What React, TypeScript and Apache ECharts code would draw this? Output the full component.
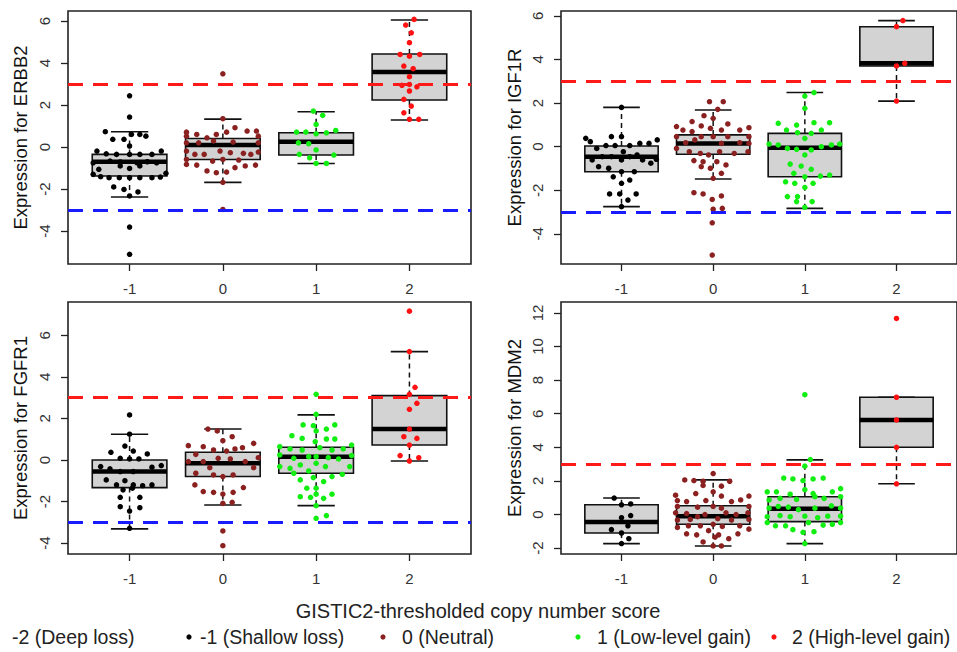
import React, { useEffect, useRef } from "react";
import * as echarts from "echarts";

// ---------- data ----------
const categories = [-1, 0, 1, 2];
const xTickLabels = [-1, 0, 1, 2];
const genes = ["ERBB2", "IGF1R", "FGFR1", "MDM2"];
const groupColors = ["#000000", "#8b2020", "#11ee11", "#ff1111"];
const legendLabels = [
  "-2 (Deep loss)",
  "-1 (Shallow loss)",
  "0 (Neutral)",
  "1 (Low-level gain)",
  "2 (High-level gain)",
];
const legendColors = ["#0000ff", "#000000", "#8b2020", "#11ee11", "#ff1111"];

// y tick labels per panel
const yTicksERBB2 = [-4, -2, 0, 2, 4, 6];
const yTicksIGF1R = [-4, -2, 0, 2, 4, 6];
const yTicksFGFR1 = [-4, -2, 0, 2, 4, 6];
const yTicksMDM2 = [-2, 0, 2, 4, 6, 8, 10, 12];

// thresholds (high-level gain / deep loss)
const thresholdsERBB2 = [3, -3];
const thresholdsIGF1R = [3, -3];
const thresholdsFGFR1 = [3, -3];
const thresholdsMDM2 = [3];

// box statistics per group: [lower whisker, Q1, median, Q3, upper whisker]
const boxERBB2 = [
  [-2.38, -1.38, -0.7, -0.35, 0.73],
  [-1.68, -0.59, 0.1, 0.41, 1.33],
  [-0.78, -0.38, 0.25, 0.68, 1.68],
  [1.29, 2.24, 3.57, 4.43, 6.05],
];
const boxIGF1R = [
  [-2.75, -1.15, -0.46, 0.03, 1.8],
  [-1.48, -0.35, 0.15, 0.54, 1.68],
  [-2.83, -1.38, -0.05, 0.61, 2.48],
  [2.09, 3.7, 3.82, 5.5, 5.78],
];
const boxFGFR1 = [
  [-3.32, -1.33, -0.56, 0, 1.24],
  [-2.17, -0.8, -0.16, 0.37, 1.49],
  [-2.2, -0.64, 0.16, 0.61, 2.17],
  [-0.05, 0.72, 1.49, 3.1, 5.22],
];
const boxMDM2 = [
  [-1.73, -1.1, -0.44, 0.58, 0.98],
  [-1.87, -0.58, -0.1, 0.52, 2.06],
  [-1.73, -0.42, 0.35, 1.06, 3.25],
  [1.83, 4.0, 5.63, 6.98, 6.98],
];

// jittered points: [jitter offset, expression]
const erbb2Shallow = [[0,2.44],[0,1.43],[-0.26,0.73],[-0.18,0.37],[-0.06,0.37],[0.02,0.6],[0.11,0.6],[0.175,0.52],[0,0.05],[-0.35,-0.19],[-0.25,-0.32],[-0.14,-0.35],[0,-0.35],[0.11,-0.35],[0.24,-0.35],[0.34,-0.19],[-0.39,-0.75],[-0.21,-0.67],[-0.1,-0.71],[0.08,-0.75],[0.19,-0.7],[0.29,-0.75],[-0.33,-1.06],[-0.1,-0.9],[0,-1.02],[0.11,-0.9],[0.39,-1.25],[-0.39,-1.3],[-0.31,-1.41],[-0.22,-1.46],[-0.11,-1.46],[0,-1.46],[0.11,-1.46],[0.24,-1.46],[0.33,-1.43],[-0.17,-1.9],[-0.06,-2.02],[0.09,-2.14],[0,-2.33],[0,-3.81],[0,-5.11]];
const erbb2Neutral = [[0,3.49],[0,1.35],[0.13,0.92],[-0.39,0.71],[-0.39,0.52],[-0.28,0.6],[-0.17,0.44],[-0.07,0.6],[0.04,0.71],[0.26,0.76],[0.36,0.76],[0.38,0.52],[-0.39,0.2],[-0.26,0.2],[-0.1,0.29],[0.11,0.24],[0.38,0.2],[-0.39,-0.19],[-0.3,-0.35],[-0.2,-0.35],[-0.03,-0.19],[0.08,-0.27],[0.22,-0.3],[0.3,-0.35],[0.38,-0.24],[-0.39,-0.59],[-0.11,-0.67],[0,-0.59],[0.17,-0.62],[-0.39,-0.83],[-0.28,-0.86],[-0.17,-1.14],[-0.07,-1.22],[0.04,-1.19],[0.13,-0.98],[0.24,-0.9],[0.35,-0.86],[0,-1.68],[0,-2.97]];
const erbb2Low = [[-0.03,1.71],[0.07,1.51],[0,1.08],[-0.21,0.71],[-0.11,0.71],[0,0.63],[0.11,0.68],[0.21,0.79],[-0.19,0.2],[-0.08,0.16],[0,-0.14],[-0.18,-0.35],[-0.07,-0.51],[0.19,-0.38],[0,-0.78],[0.11,-0.78]];
const erbb2High = [[0.05,6.08],[-0.04,5.81],[0.02,5.44],[0,4.97],[-0.1,4.41],[0,4.33],[0.11,4.41],[-0.06,3.86],[0.04,3.73],[0,3.35],[-0.08,2.94],[0,2.98],[0.08,2.87],[0,2.67],[-0.06,2.27],[0.02,1.95],[-0.06,1.63],[0,1.32],[0.1,1.32]];

const igf1rShallow = [[0,1.8],[-0.39,0.38],[-0.34,0.23],[-0.11,0.46],[0,0.46],[0.39,0.31],[0.3,0.15],[0.2,0.15],[-0.27,-0.08],[-0.17,0.05],[-0.07,0.05],[0.09,0.05],[0.02,-0.23],[-0.32,-0.61],[-0.21,-0.46],[-0.11,-0.46],[0,-0.61],[0.09,-0.46],[0.17,-0.38],[0.23,-0.61],[0.32,-0.76],[0.38,-0.58],[-0.25,-0.92],[-0.14,-0.99],[0,-1.15],[0.14,-1.15],[-0.09,-1.38],[0,-1.68],[0.09,-1.53],[-0.13,-2.17],[-0.02,-2.17],[0.16,-2.17],[0.07,-2.45],[0,-2.75]];
const igf1rNeutral = [[-0.04,2.06],[0.11,2.06],[0.05,1.71],[-0.1,1.42],[0,1.3],[-0.23,1.15],[-0.13,0.95],[0.16,1.04],[-0.4,0.92],[-0.33,0.76],[-0.23,0.69],[-0.03,0.84],[0.09,0.76],[0.29,0.76],[0.39,0.87],[-0.4,0.46],[-0.13,0.46],[0,0.46],[0.16,0.46],[0.39,0.46],[-0.3,0.18],[-0.2,0.31],[0.09,0.15],[0.29,0.18],[0.39,0.15],[-0.4,-0.08],[-0.26,-0.23],[-0.14,-0.31],[-0.05,-0.38],[0.07,-0.23],[0.23,-0.31],[0.38,-0.23],[-0.21,-0.64],[-0.11,-0.69],[0.04,-0.69],[-0.13,-0.92],[-0.03,-0.99],[0.14,-0.84],[0.09,-1.22],[0,-1.45],[-0.21,-2.11],[-0.11,-2.17],[0.09,-2.26],[-0.01,-2.42],[0,-2.87],[0.1,-2.83],[-0.01,-3.49],[-0.01,-4.97]];
const igf1rLow = [[0,2.32],[0.1,2.48],[0,1.76],[-0.29,1.07],[-0.09,0.99],[0.1,1.1],[0.27,1.1],[-0.2,0.76],[-0.08,0.64],[0.07,0.61],[0.18,0.76],[0,0.38],[-0.39,0.12],[-0.29,0.08],[-0.19,-0.08],[-0.09,-0.12],[0.07,-0.15],[0.18,0],[0.29,0.08],[0.38,0.12],[0,-0.38],[-0.16,-0.8],[-0.04,-0.89],[0.07,-1.04],[-0.12,-1.22],[0,-1.38],[0.17,-1.35],[0.27,-1.3],[-0.21,-1.61],[-0.11,-1.68],[0.09,-1.68],[0,-1.87],[-0.19,-2.29],[-0.08,-2.29],[-0.09,-2.52],[0.08,-2.52],[0,-2.78]];
const igf1rHigh = [[0.07,5.78],[0,5.5],[0,3.7],[0.09,3.82],[0,2.09]];

const fgfr1Shallow = [[0,2.17],[0,1.24],[-0.05,0.67],[0.04,0.43],[-0.2,0.37],[0.19,0.29],[-0.1,0.08],[0,0.05],[0.1,0.05],[-0.31,-0.32],[-0.21,-0.43],[-0.1,-0.56],[0.04,-0.56],[0.24,-0.35],[0.34,-0.27],[-0.25,-0.96],[-0.05,-1],[-0.14,-1.2],[0.04,-1.2],[0.14,-1.24],[0.24,-1.2],[-0.07,-1.44],[0.03,-1.36],[-0.1,-1.8],[0.11,-1.8],[-0.1,-2.25],[0.11,-2.3],[0,-2.46],[0,-3.29]];
const fgfr1Neutral = [[-0.16,1.49],[-0.06,1.4],[0.1,1.12],[0,0.93],[-0.37,0.69],[-0.21,0.64],[0.33,0.8],[-0.1,0.48],[0.04,0.43],[0.13,0.53],[0.21,0.59],[-0.29,0.27],[-0.05,0.08],[0.38,0.11],[-0.37,-0.08],[-0.21,-0.08],[0.08,0.05],[0.24,-0.08],[-0.14,-0.37],[0.33,-0.37],[-0.29,-0.64],[-0.1,-0.72],[0,-0.8],[0.11,-0.72],[-0.3,-1.2],[0.22,-1.33],[-0.21,-1.52],[-0.1,-1.56],[0,-1.64],[0.11,-1.56],[0,-2.09],[0.1,-2.04],[0,-3.42],[0,-4.13]];
const fgfr1Low = [[0,3.16],[0,2.2],[-0.14,1.69],[-0.03,1.65],[0.11,1.49],[0.2,1.69],[-0.26,1.17],[-0.15,1.04],[0,1.4],[-0.01,0.88],[0.11,1.01],[0.2,1.01],[-0.39,0.64],[-0.28,0.53],[-0.15,0.48],[0.04,0.59],[0.17,0.48],[0.29,0.53],[0.38,0.72],[-0.39,0.24],[-0.24,0.08],[-0.08,0.16],[0,0.16],[0.13,0.11],[0.24,0.05],[0.38,0.21],[-0.39,-0.32],[-0.28,-0.4],[-0.17,-0.24],[0,-0.16],[0.1,-0.32],[0.36,-0.32],[-0.24,-0.64],[-0.08,-0.53],[0.28,-0.69],[-0.17,-0.96],[-0.03,-0.85],[0.08,-1.04],[0.17,-0.8],[-0.1,-1.36],[0,-1.36],[0,-1.65],[-0.17,-1.77],[-0.06,-1.8],[0.08,-1.85],[0.17,-1.65],[0,-2.2],[0,-2.81],[0.11,-2.68]];
const fgfr1High = [[0,7.17],[0,5.22],[0.06,3.5],[0,3.16],[0.08,2.73],[0,2.44],[0,1.49],[-0.06,1.12],[0.08,1.04],[0,0.72],[-0.1,0.21],[0.1,0.11],[0,-0.05]];

const mdm2Shallow = [[-0.08,0.98],[0,0.58],[0.1,0.63],[0,-0.19],[0.1,-0.06],[0.07,-0.67],[-0.11,-0.9],[0,-1.1],[0.08,-1.44],[0,-1.73]];
const mdm2Neutral = [[0,2.44],[-0.31,2.06],[-0.21,2.02],[-0.11,1.98],[0.18,1.98],[-0.11,1.73],[0.09,1.69],[0,1.35],[-0.41,1.15],[-0.19,1.25],[0.09,1.1],[0.39,1.1],[-0.39,0.83],[-0.29,0.77],[-0.08,0.83],[0.2,0.77],[0.3,0.87],[-0.39,0.48],[-0.17,0.44],[0,0.48],[0.09,0.38],[0.39,0.48],[-0.41,0.1],[-0.29,0.06],[-0.09,0],[0.14,0.1],[0.25,0],[0.38,0.1],[-0.39,-0.33],[-0.25,-0.29],[-0.17,-0.13],[0.05,-0.25],[0.2,-0.33],[0.39,-0.29],[-0.39,-0.77],[-0.27,-0.67],[-0.14,-0.67],[0,-0.58],[0.1,-0.71],[0.29,-0.67],[0.39,-0.87],[-0.29,-1.15],[-0.18,-1.21],[-0.05,-0.96],[0.06,-1.21],[0.27,-1.15],[-0.11,-1.63],[0.02,-1.35],[0.17,-1.44],[0,-1.87],[0.09,-1.87]];
const mdm2Low = [[0,7.13],[0.06,3.27],[0,2.88],[-0.23,2.17],[-0.13,2.12],[-0.02,2.02],[0.09,2.12],[0.2,2.17],[0,1.48],[-0.41,1.35],[-0.31,1.35],[-0.16,1.21],[0.09,1.25],[0.3,1.35],[0.39,1.54],[-0.39,0.87],[-0.27,0.96],[-0.09,0.9],[0.11,1.06],[0.21,0.96],[0.39,1.06],[-0.39,0.38],[-0.29,0.48],[-0.18,0.44],[-0.07,0.29],[0.11,0.38],[0.29,0.52],[0.39,0.38],[-0.41,-0.13],[-0.27,-0.06],[-0.16,-0.13],[0,-0.1],[0.14,-0.19],[0.25,-0.1],[0.39,-0.1],[-0.41,-0.48],[0.04,-0.48],[0.39,-0.48],[-0.32,-0.67],[-0.21,-0.67],[0.2,-0.63],[0.3,-0.58],[-0.13,-0.9],[-0.02,-1.06],[0.1,-1.02],[0,-1.73]];
const mdm2High = [[0,11.67],[0,6.98],[0,5.63],[0,4.0],[0,1.83]];

// ---------- layout ----------
const FONT = "'Liberation Sans', Arial, Helvetica, sans-serif";
const panels = [
  { gene: genes[0], grid: { left: 68, top: 11, width: 403, height: 253 }, yMin: -5.57, yMax: 6.48, yTicks: yTicksERBB2, boxes: boxERBB2, points: [erbb2Shallow, erbb2Neutral, erbb2Low, erbb2High], thresholds: thresholdsERBB2, nameGap: 38 },
  { gene: genes[1], grid: { left: 561, top: 11, width: 403, height: 253 }, yMin: -5.38, yMax: 6.22, yTicks: yTicksIGF1R, boxes: boxIGF1R, points: [igf1rShallow, igf1rNeutral, igf1rLow, igf1rHigh], thresholds: thresholdsIGF1R, nameGap: 37 },
  { gene: genes[2], grid: { left: 68, top: 302, width: 403, height: 252 }, yMin: -4.53, yMax: 7.61, yTicks: yTicksFGFR1, boxes: boxFGFR1, points: [fgfr1Shallow, fgfr1Neutral, fgfr1Low, fgfr1High], thresholds: thresholdsFGFR1, nameGap: 38 },
  { gene: genes[3], grid: { left: 561, top: 302, width: 403, height: 252 }, yMin: -2.35, yMax: 12.65, yTicks: yTicksMDM2, boxes: boxMDM2, points: [mdm2Shallow, mdm2Neutral, mdm2Low, mdm2High], thresholds: thresholdsMDM2, nameGap: 37 },
];

const thresholdColor = (v: number) => (v > 0 ? "#ff1a1a" : "#1a1aff");

function renderBox(params: any, api: any) {
  const x = api.value(0);
  const low = api.value(1);
  const q1 = api.value(2);
  const med = api.value(3);
  const q3 = api.value(4);
  const high = api.value(5);
  const hw = 0.4;
  const cw = 0.2;
  const pHigh = api.coord([x, high]);
  const pLow = api.coord([x, low]);
  const pQ3 = api.coord([x, q3]);
  const pQ1 = api.coord([x, q1]);
  const pMed = api.coord([x, med]);
  const xL = api.coord([x - hw, q3])[0];
  const xR = api.coord([x + hw, q3])[0];
  const cL = api.coord([x - cw, q3])[0];
  const cR = api.coord([x + cw, q3])[0];
  const stroke = "#111";
  return {
    type: "group",
    children: [
      { type: "line", shape: { x1: pQ3[0], y1: pQ3[1], x2: pHigh[0], y2: pHigh[1] }, style: { stroke, lineWidth: 1.5, lineDash: [5, 4] } },
      { type: "line", shape: { x1: pQ1[0], y1: pQ1[1], x2: pLow[0], y2: pLow[1] }, style: { stroke, lineWidth: 1.5, lineDash: [5, 4] } },
      { type: "line", shape: { x1: cL, y1: pHigh[1], x2: cR, y2: pHigh[1] }, style: { stroke, lineWidth: 1.6 } },
      { type: "line", shape: { x1: cL, y1: pLow[1], x2: cR, y2: pLow[1] }, style: { stroke, lineWidth: 1.6 } },
      { type: "rect", shape: { x: xL, y: pQ3[1], width: xR - xL, height: pQ1[1] - pQ3[1] }, style: { fill: "#d3d3d3", stroke, lineWidth: 1.6 } },
      { type: "line", shape: { x1: xL, y1: pMed[1], x2: xR, y2: pMed[1] }, style: { stroke: "#000", lineWidth: 4.5 } },
    ],
  };
}

function buildOption() {
  const grid: any[] = [];
  const xAxis: any[] = [];
  const yAxis: any[] = [];
  const series: any[] = [];
  panels.forEach((p, i) => {
    grid.push({ ...p.grid, show: true, borderColor: "#222", borderWidth: 1.6, backgroundColor: "transparent", containLabel: false });
    xAxis.push({
      gridIndex: i,
      type: "value",
      position: "bottom",
      min: -1.66,
      max: 2.66,
      axisLine: { show: false, onZero: false },
      splitLine: { show: false },
      axisTick: { show: true, length: 7, customValues: categories, lineStyle: { color: "#222", width: 1.3 } },
      axisLabel: { customValues: xTickLabels, margin: 17, fontSize: 15, color: "#333", fontFamily: FONT },
    });
    yAxis.push({
      gridIndex: i,
      type: "value",
      position: "left",
      min: p.yMin,
      max: p.yMax,
      name: "Expression for " + p.gene,
      nameLocation: "middle",
      nameRotate: 90,
      nameGap: p.nameGap,
      nameTextStyle: { fontSize: 18.5, color: "#111", fontFamily: FONT },
      axisLine: { show: false, onZero: false },
      splitLine: { show: false },
      axisTick: { show: true, length: 7, customValues: p.yTicks, lineStyle: { color: "#222", width: 1.3 } },
      axisLabel: { customValues: p.yTicks, rotate: 90, margin: 16, fontSize: 15, color: "#333", fontFamily: FONT },
    });
    series.push({
      type: "custom",
      xAxisIndex: i,
      yAxisIndex: i,
      z: 2,
      silent: true,
      renderItem: renderBox,
      encode: { x: 0, y: [1, 2, 3, 4, 5] },
      data: p.boxes.map((b, g) => [categories[g], ...b]),
    });
    p.points.forEach((pts, g) => {
      series.push({
        type: "scatter",
        xAxisIndex: i,
        yAxisIndex: i,
        z: 3,
        silent: true,
        symbol: "circle",
        symbolSize: 5.5,
        itemStyle: { color: groupColors[g], opacity: 1 },
        data: pts.map(([j, v]) => [categories[g] + j, v]),
      });
    });
    series.push({
      type: "scatter",
      xAxisIndex: i,
      yAxisIndex: i,
      z: 5,
      silent: true,
      data: [],
      markLine: {
        silent: true,
        symbol: "none",
        label: { show: false },
        data: p.thresholds.map((t) => ({
          yAxis: t,
          lineStyle: { color: thresholdColor(t), width: 3, type: [15, 10] },
        })),
      },
    });
  });

  const legendTextX = [12, 200, 402, 597, 792];
  const legendDotX = [-7, 189, 383, 578, 774];
  const graphic: any[] = [
    {
      type: "text",
      x: 478,
      y: 611,
      style: { text: "GISTIC2-thresholded copy number score", fontSize: 20, fill: "#222", align: "center", verticalAlign: "middle", fontFamily: FONT },
    },
  ];
  legendLabels.forEach((lab, k) => {
    graphic.push({ type: "circle", shape: { cx: legendDotX[k], cy: 637, r: 2.6 }, style: { fill: legendColors[k] } });
    graphic.push({
      type: "text",
      x: legendTextX[k],
      y: 637,
      style: { text: lab, fontSize: 19.5, fill: "#222", align: "left", verticalAlign: "middle", fontFamily: FONT },
    });
  });

  return { animation: false, backgroundColor: "#ffffff", grid, xAxis, yAxis, series, graphic };
}

export default function App() {
  const ref = useRef<HTMLDivElement>(null);
  useEffect(() => {
    document.body.style.margin = "0";
    if (!ref.current) return;
    const chart = echarts.init(ref.current, undefined, { renderer: "svg" });
    chart.setOption(buildOption() as any);
    return () => chart.dispose();
  }, []);
  return (
    <div
      ref={ref}
      style={{ position: "absolute", left: 0, top: 0, width: 957, height: 652, overflow: "hidden", background: "#fff" }}
    />
  );
}
